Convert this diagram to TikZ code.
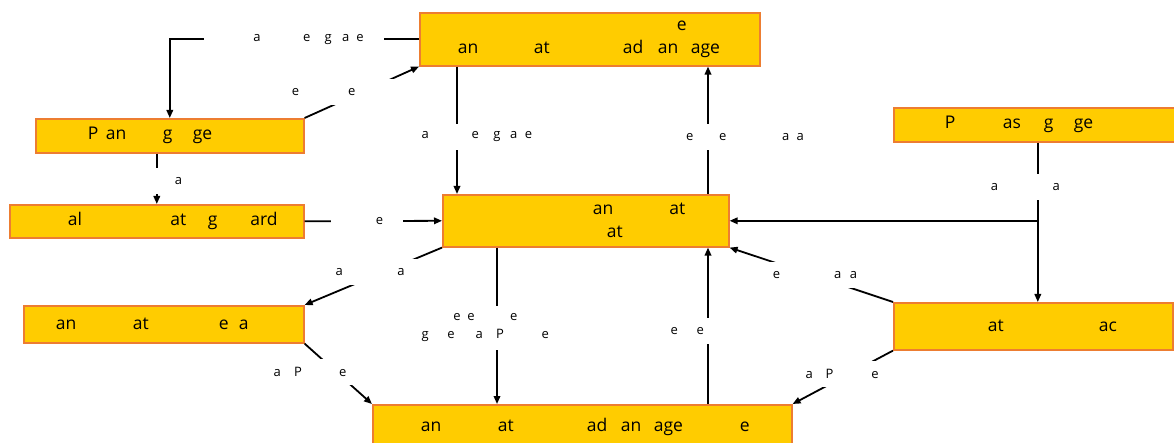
\documentclass[tikz,border=0pt]{standalone}
\usepackage{fontspec}
\setmainfont{Open Sans}
\usetikzlibrary{arrows.meta}

% a fixed-width line and a fixed-width piece of it
\newcommand{\boxline}[3]{\makebox[#1pt][l]{\hspace*{#2pt}#3}}
\newcommand{\chunk}[2]{\makebox[#1pt][l]{#2}}

\begin{document}
\begin{tikzpicture}[x=1pt,y=-1pt,
  box/.style={draw=boxedge, fill=boxfill, line width=1.6pt, inner sep=0pt, anchor=north west, font=\fontsize{17.5}{23}\selectfont},
  lbl/.style={fill=white, inner sep=0pt, minimum height=26pt, font=\fontsize{13}{18}\selectfont},
  link/.style={line width=1.8pt, -{Triangle[length=8pt,width=6.5pt]}}]

% Define the colors
\definecolor{boxfill}{HTML}{FFCC00}
\definecolor{boxedge}{HTML}{ED7D31}

\useasboundingbox (0,0) rectangle (1174,443);

% Draw the boxes
\node[box, minimum width=340pt, minimum height=53pt, align=left] (topbox) at (419,12)
  {\boxline{340}{257}{e}\\ \boxline{340}{38}{\chunk{76}{an}\chunk{89}{at}\chunk{35}{ad}\chunk{33}{an}age}};
\node[box, minimum width=268pt, minimum height=34pt] (planbox) at (35,118)
  {\boxline{268}{52}{\chunk{18}{P}\chunk{57}{an}\chunk{30}{g}ge}};
\node[box, minimum width=294pt, minimum height=33pt] (guardbox) at (9,204)
  {\boxline{294}{58}{\chunk{102.5}{al}\chunk{37.5}{at}\chunk{42.5}{g}ard}};
\node[box, minimum width=286pt, minimum height=52pt, align=left] (corebox) at (442,194)
  {\boxline{286}{150}{\chunk{76.5}{an}at}\\ \boxline{286}{164}{at}};
\node[box, minimum width=288pt, minimum height=34pt] (passbox) at (893,107)
  {\boxline{288}{51}{\chunk{58}{P}\chunk{41}{as}\chunk{30}{g}ge}};
\node[box, minimum width=279pt, minimum height=47pt] (matchbox) at (893,302)
  {\boxline{279}{94}{\chunk{111}{at}ac}};
\node[box, minimum width=280pt, minimum height=37pt] (sidebox) at (23,305)
  {\boxline{280}{32}{\chunk{77}{an}\chunk{86}{at}\chunk{20}{e}a}};
\node[box, minimum width=419pt, minimum height=44pt] (basebox) at (372,404)
  {\boxline{419}{48}{\chunk{77}{an}\chunk{89}{at}\chunk{34}{ad}\chunk{33}{an}\chunk{86}{age}e}};

% Points where the straight legs leave the boxes
\coordinate (topin) at ([xshift=38pt]topbox.south west);
\coordinate (topout) at ([xshift=289pt]topbox.south west);
\coordinate (coredown) at ([xshift=55pt]corebox.south west);
\coordinate (coreup) at ([xshift=266pt]corebox.south west);
\coordinate (split) at (passbox.south |- corebox.east);

% Draw the connectors
\draw[link] (topbox.west) -| (planbox.north)
  node[lbl, pos=0.25] (l1) {\boxline{180}{49}{\chunk{49.7}{a}\chunk{21.6}{e}\chunk{17.4}{g}\chunk{14.3}{a}e}};
\draw[link] (planbox.north east) -- (topbox.south west)
  node[lbl, midway] (l2) {\boxline{150}{5}{\chunk{56.3}{e}e}};
\draw[link] (topin) -- (topin |- corebox.north)
  node[lbl, pos=0.55] (l3) {\boxline{160}{44.7}{\chunk{50}{a}\chunk{21.6}{e}\chunk{16.7}{g}\chunk{15}{a}e}};
\draw[link] (coreup |- corebox.north) -- (topout)
  node[lbl, pos=0.45] (l4) {\boxline{196}{76}{\chunk{33}{e}\chunk{63}{e}\chunk{14.5}{a}a}};
\draw[link] (planbox.south -| guardbox.north) -- (guardbox.north)
  node[lbl, pos=0.54] (l6) {\boxline{56}{46}{a}};
\draw[link] (guardbox.east) -- (corebox.west)
  node[lbl, pos=0.453] (l5) {\boxline{72}{45}{e}};
\draw[link] (passbox.south) -- (passbox.south |- matchbox.north)
  node[lbl, pos=0.28] (l7) {\boxline{100}{3}{\chunk{61.7}{a}a}};
\draw[link] (split) -- (corebox.east);
\draw[link] (corebox.south west) -- (sidebox.north east)
  node[lbl, pos=0.417] (l8) {\boxline{104}{3}{\chunk{61.7}{a}a}};
\draw[link] (sidebox.south east) -- (basebox.north west)
  node[lbl, pos=0.47] (l9) {\boxline{130}{2.3}{\chunk{20.6}{a}\chunk{45}{P}e}};
\draw[link] (coredown) -- (coredown |- basebox.north)
  node[lbl, pos=0.513, minimum height=44pt, align=left] (l10)
  {\boxline{156}{34.3}{\chunk{14}{e}\chunk{42.7}{e}e}\\ \boxline{156}{2.7}{\chunk{25.6}{g}\chunk{28.4}{e}\chunk{20.3}{a}\chunk{45.7}{P}e}};
\draw[link] (coreup |- basebox.north) -- (coreup)
  node[lbl, pos=0.468] (l11) {\boxline{80}{2.7}{\chunk{26}{e}e}};
\draw[link] (matchbox.north west) -- (corebox.south east)
  node[lbl, pos=0.494] (l12) {\boxline{92}{6.5}{\chunk{61.3}{e}\chunk{15.7}{a}a}};
\draw[link] (matchbox.south west) -- (basebox.north east)
  node[lbl, pos=0.446] (l13) {\boxline{90}{2.5}{\chunk{20}{a}\chunk{45.7}{P}e}};

\end{tikzpicture}
\end{document}
